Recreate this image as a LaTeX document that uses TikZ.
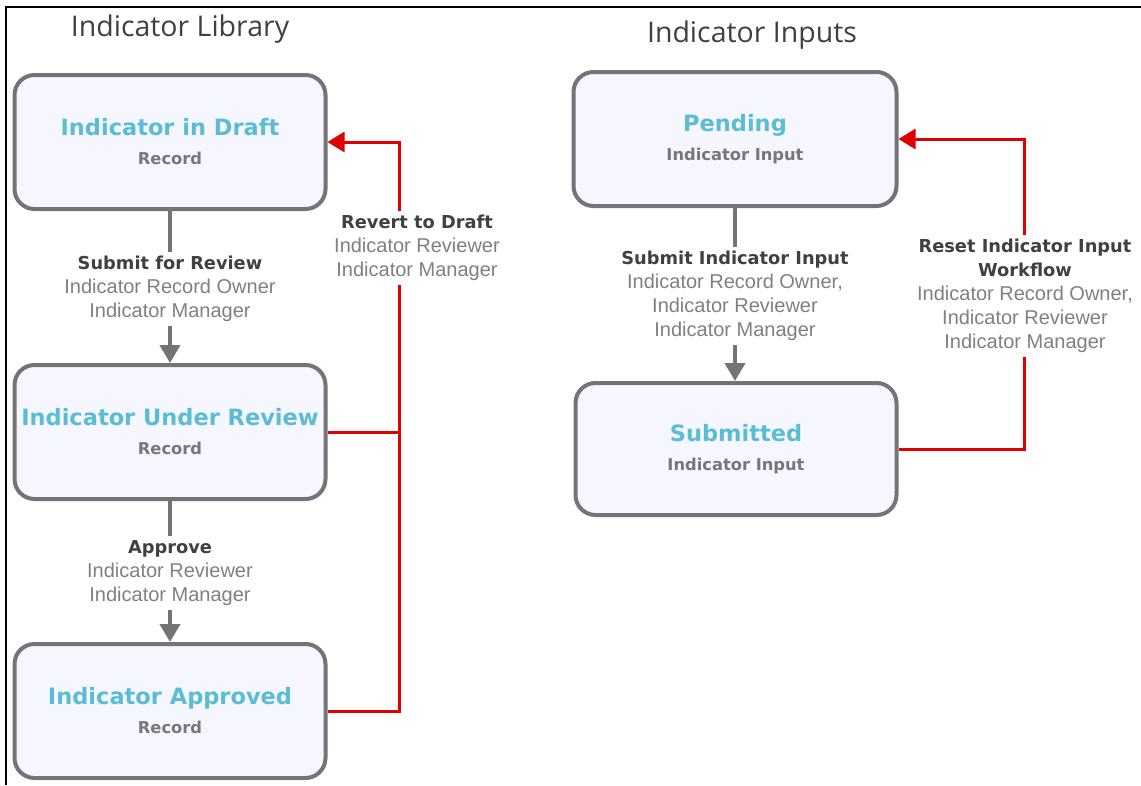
\documentclass[tikz,border=0pt]{standalone}
\usepackage{fontspec}
\setmainfont{Liberation Sans}
\newfontfamily\titlefont{Open Sans}
\newfontfamily\boldfont{DejaVu Sans}
\usetikzlibrary{arrows.meta}
\definecolor{cyanT}{HTML}{5BBDD5}
\definecolor{boxgray}{HTML}{747478}
\definecolor{boxfill}{HTML}{F5F6FE}
\definecolor{darkT}{HTML}{404040}
\definecolor{roleT}{HTML}{808080}
\definecolor{recT}{HTML}{77777B}
\definecolor{redL}{HTML}{E00000}
\newcommand{\stt}[2]{{\boldfont\bfseries\fontsize{22.5}{29}\selectfont\color{cyanT}#1}\\{\boldfont\bfseries\fontsize{16.3}{29}\selectfont\color{recT}#2}}
\newcommand{\lblb}[1]{{\boldfont\bfseries\fontsize{17.8}{24}\selectfont\color{darkT}#1}}
\newcommand{\lblr}[1]{{\fontsize{20}{24}\selectfont\color{roleT}#1}}
\begin{document}
\begin{tikzpicture}[x=1pt,y=-1pt,
  statebox/.style={draw=boxgray, line width=4pt, fill=boxfill, rounded corners=20pt,
    minimum width=311pt, minimum height=134pt, align=center, inner sep=0pt,
    font=\fontsize{20}{29}\selectfont},
  grayarrow/.style={draw=boxgray, line width=4pt, -{Triangle[length=18pt,width=20pt]}},
  redline/.style={draw=redL, line width=3pt},
  redarrow/.style={draw=redL, line width=3pt, -{Triangle[length=17pt,width=20pt]}},
  lbl/.style={fill=white, align=center, inner sep=4pt, font=\fontsize{20}{24}\selectfont}]
\useasboundingbox (0,0) rectangle (1141,785);
\draw[black, line width=2.5pt] (6,785) -- (6,7) -- (1141,7);
\node[text=darkT, font=\titlefont\fontsize{28.5}{32}\selectfont] (t1) at (180,29) {Indicator Library};
\node[text=darkT, font=\titlefont\fontsize{28.5}{32}\selectfont] (t2) at (752,35) {Indicator Inputs};
% left column
\node[statebox] (draft) at (170,142) {\stt{Indicator in Draft}{Record}};
\node[statebox] (review) at (170,432) {\stt{Indicator Under Review}{Record}};
\node[statebox] (approved) at (170,711) {\stt{Indicator Approved}{Record}};
% right column
\node[statebox, minimum width=323pt] (pending) at (735,139) {\stt{Pending}{Indicator Input}};
\node[statebox, minimum width=321pt, minimum height=132pt] (submitted) at (736,449) {\stt{Submitted}{Indicator Input}};
% gray arrows
\draw[grayarrow] (draft) -- (review);
\draw[grayarrow] (review) -- (approved);
\draw[grayarrow] (pending.south) -- (pending.south |- submitted.north);
% red connectors
\coordinate (rl) at (399,432);
\coordinate (rt) at (399,142);
\draw[redline] (review.east) -- (rl);
\draw[redarrow] (approved.east) -| (rt) -- (draft.east);
\coordinate (rr) at (1024,139);
\draw[redarrow] (submitted.east) -| (rr) -- (pending.east);
% labels
\node[lbl] (l1) at (170,289) {\lblb{Submit for Review}\\\lblr{Indicator Record Owner}\\\lblr{Indicator Manager}};
\node[lbl] (l2) at (170,573) {\lblb{Approve}\\\lblr{Indicator Reviewer}\\\lblr{Indicator Manager}};
\node[lbl] (l3) at (417,248) {\lblb{Revert to Draft}\\\lblr{Indicator Reviewer}\\\lblr{Indicator Manager}};
\node[lbl] (l4) at (735,296) {\lblb{Submit Indicator Input}\\\lblr{Indicator Record Owner,}\\\lblr{Indicator Reviewer}\\\lblr{Indicator Manager}};
\node[lbl] (l5) at (1025,296) {\lblb{Reset Indicator Input}\\\lblb{Workflow}\\\lblr{Indicator Record Owner,}\\\lblr{Indicator Reviewer}\\\lblr{Indicator Manager}};
\end{tikzpicture}
\end{document}
